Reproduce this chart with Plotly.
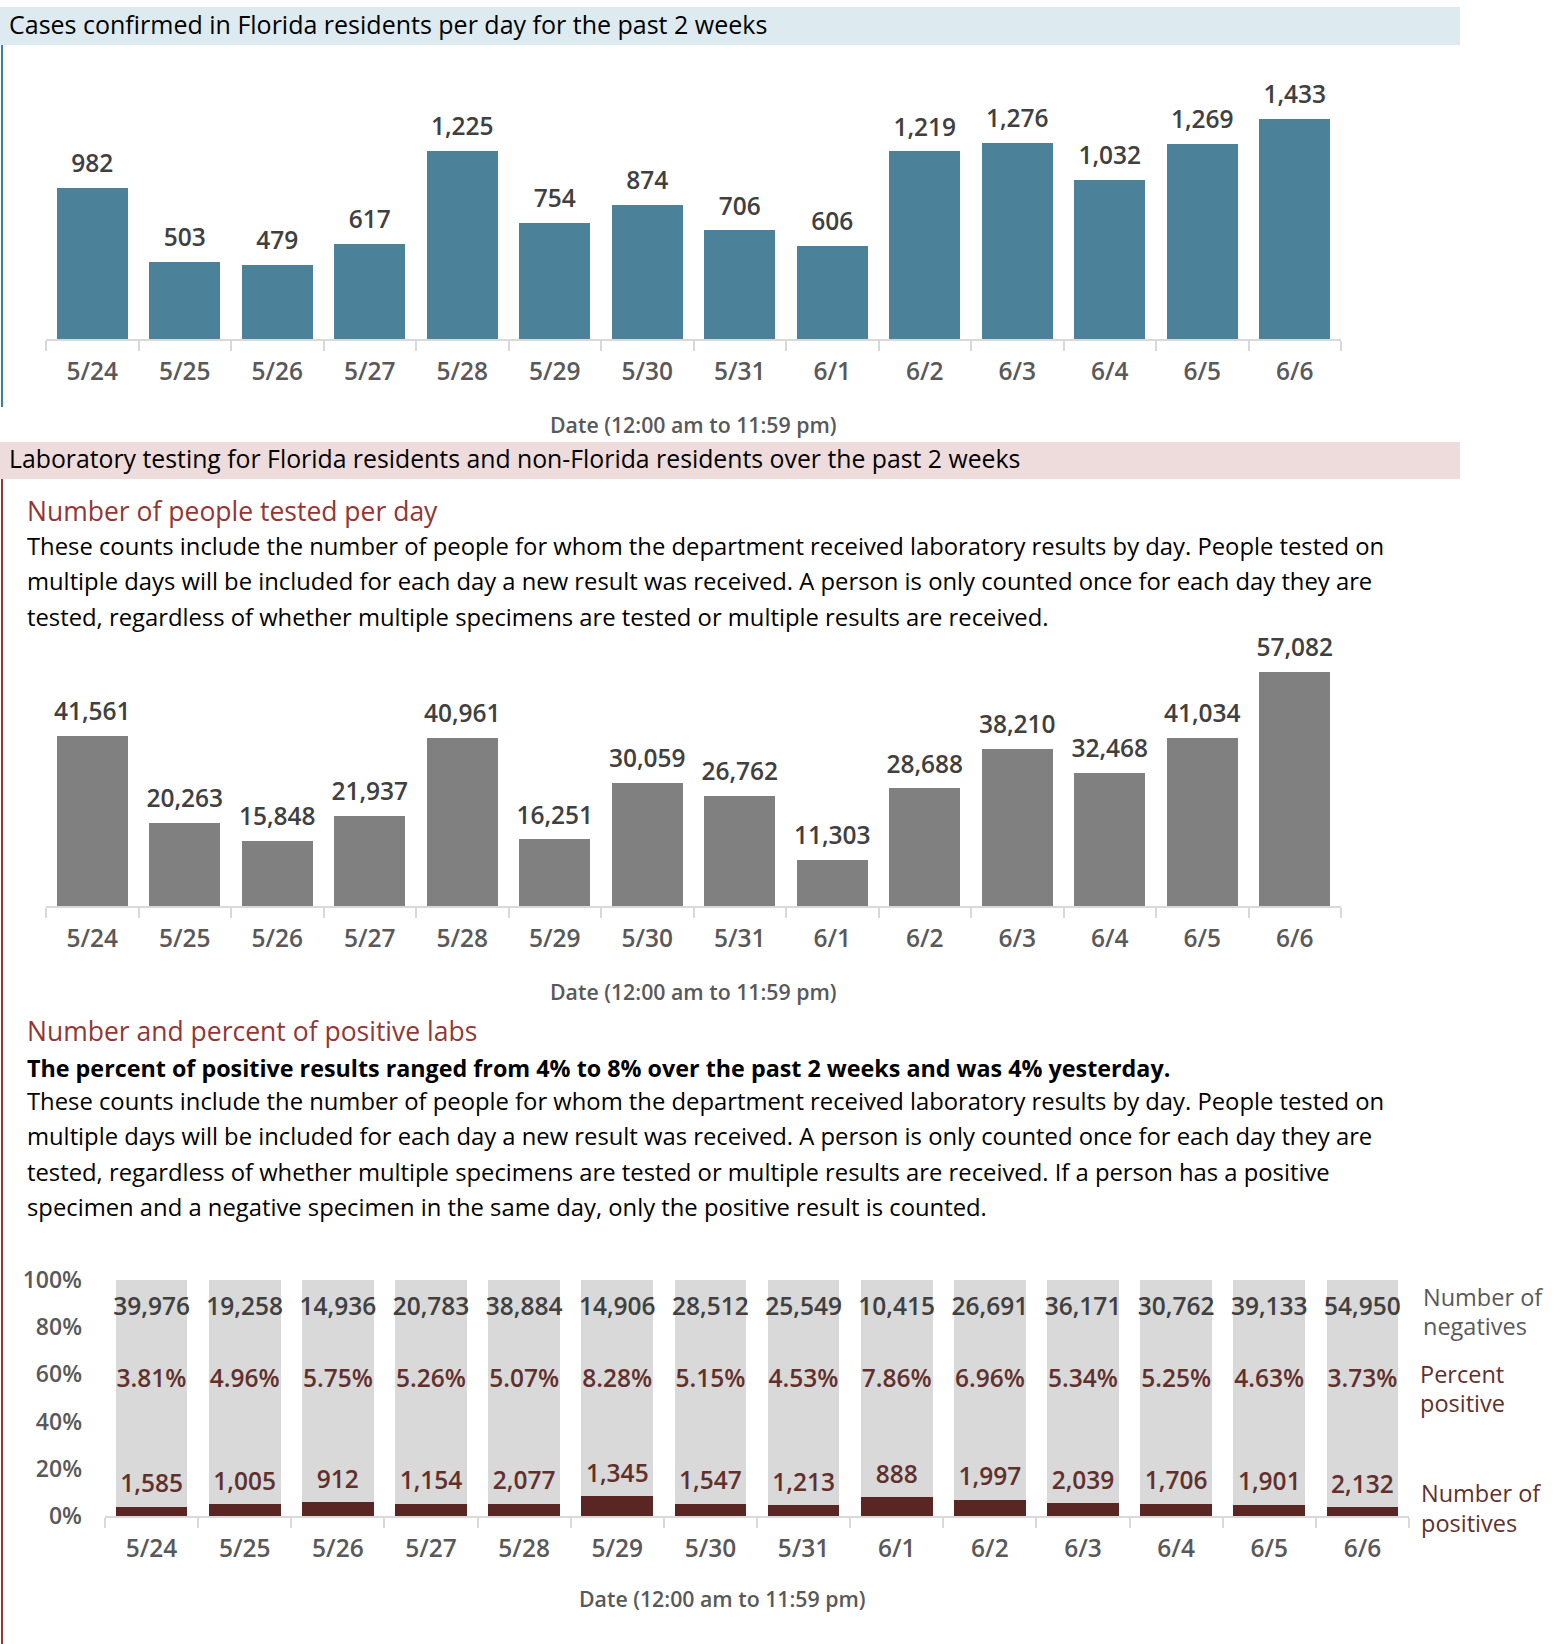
import plotly.graph_objects as go

# ---------------- data ----------------
dates = ["5/24", "5/25", "5/26", "5/27", "5/28", "5/29", "5/30", "5/31",
         "6/1", "6/2", "6/3", "6/4", "6/5", "6/6"]
cases = [982, 503, 479, 617, 1225, 754, 874, 706, 606, 1219, 1276, 1032, 1269, 1433]
tested = [41561, 20263, 15848, 21937, 40961, 16251, 30059, 26762, 11303, 28688,
          38210, 32468, 41034, 57082]
negatives = [39976, 19258, 14936, 20783, 38884, 14906, 28512, 25549, 10415, 26691,
             36171, 30762, 39133, 54950]
positives = [1585, 1005, 912, 1154, 2077, 1345, 1547, 1213, 888, 1997,
             2039, 1706, 1901, 2132]
pct_positive = [3.81, 4.96, 5.75, 5.26, 5.07, 8.28, 5.15, 4.53, 7.86, 6.96,
                5.34, 5.25, 4.63, 3.73]
pct_ticks = [0, 20, 40, 60, 80, 100]
pct_tick_labels = ["0%", "20%", "40%", "60%", "80%", "100%"]

header1 = "Cases confirmed in Florida residents per day for the past 2 weeks"
header2 = "Laboratory testing for Florida residents and non-Florida residents over the past 2 weeks"
sub1 = "Number of people tested per day"
sub2 = "Number and percent of positive labs"
axis_title = "Date (12:00 am to 11:59 pm)"
para1 = [
    "These counts include the number of people for whom the department received laboratory results by day. People tested on",
    "multiple days will be included for each day a new result was received. A person is only counted once for each day they are",
    "tested, regardless of whether multiple specimens are tested or multiple results are received.",
]
bold_line = "The percent of positive results ranged from 4% to 8% over the past 2 weeks and was 4% yesterday."
para2 = [
    "These counts include the number of people for whom the department received laboratory results by day. People tested on",
    "multiple days will be included for each day a new result was received. A person is only counted once for each day they are",
    "tested, regardless of whether multiple specimens are tested or multiple results are received. If a person has a positive",
    "specimen and a negative specimen in the same day, only the positive result is counted.",
]

# ---------------- styling ----------------
W, H = 1560, 1644
FONT = "Open Sans, Liberation Sans, Arial, sans-serif"
TEAL = "#4B8199"
GREY_BAR = "#808080"
LIGHT = "#D9D9D9"
MAROON = "#5A2623"
MAROON_TXT = "#62302C"
RED_TXT = "#943634"
LABEL = "#404040"
TICK = "#595959"


def px(x):
    return x / W


def py(y):
    return 1 - y / H


fmt = lambda v: f"{v:,}"
neg_pct = [n / (n + p) * 100 for n, p in zip(negatives, positives)]
pos_pct = [p / (n + p) * 100 for n, p in zip(negatives, positives)]

LBL_SIZE = 24.5
# invisible marker used only to push the value label a little above the bar end
GAP_MARKER = dict(size=14, opacity=0)
fig = go.Figure()

# chart 1
fig.add_trace(go.Bar(x=dates, y=cases, marker=dict(color=TEAL, line=dict(width=0)),
                     width=0.77, xaxis="x", yaxis="y", showlegend=False, hoverinfo="skip"))
fig.add_trace(go.Scatter(x=dates, y=cases, mode="markers+text", text=[fmt(v) for v in cases],
                         textposition="top center", cliponaxis=False,
                         textfont=dict(family=FONT, size=LBL_SIZE, color=LABEL, weight=600),
                         marker=GAP_MARKER,
                         xaxis="x", yaxis="y", showlegend=False, hoverinfo="skip"))
# chart 2
fig.add_trace(go.Bar(x=dates, y=tested, marker=dict(color=GREY_BAR, line=dict(width=0)),
                     width=0.77, xaxis="x2", yaxis="y2", showlegend=False, hoverinfo="skip"))
fig.add_trace(go.Scatter(x=dates, y=tested, mode="markers+text", text=[fmt(v) for v in tested],
                         textposition="top center", cliponaxis=False,
                         textfont=dict(family=FONT, size=LBL_SIZE, color=LABEL, weight=600),
                         marker=GAP_MARKER,
                         xaxis="x2", yaxis="y2", showlegend=False, hoverinfo="skip"))
# chart 3 (100% stacked)
fig.add_trace(go.Bar(x=dates, y=pos_pct, marker=dict(color=MAROON, line=dict(width=0)),
                     width=0.77, xaxis="x3", yaxis="y3", showlegend=False, hoverinfo="skip"))
fig.add_trace(go.Bar(x=dates, y=neg_pct, marker=dict(color=LIGHT, line=dict(width=0)),
                     width=0.77, xaxis="x3", yaxis="y3", showlegend=False, hoverinfo="skip"))
fig.add_trace(go.Scatter(x=dates, y=pos_pct, mode="markers+text",
                         text=[fmt(v) for v in positives],
                         textposition="top center", cliponaxis=False,
                         textfont=dict(family=FONT, size=LBL_SIZE, color=MAROON_TXT, weight=600),
                         marker=dict(size=12, opacity=0),
                         xaxis="x3", yaxis="y3", showlegend=False, hoverinfo="skip"))
fig.add_trace(go.Scatter(x=dates, y=[87.6] * len(dates), mode="text",
                         text=[fmt(v) for v in negatives], textposition="middle center",
                         cliponaxis=False,
                         textfont=dict(family=FONT, size=LBL_SIZE, color=LABEL, weight=600),
                         xaxis="x3", yaxis="y3", showlegend=False, hoverinfo="skip"))
fig.add_trace(go.Scatter(x=dates, y=[57.3] * len(dates), mode="text",
                         text=[f"{v:.2f}%" for v in pct_positive], textposition="middle center",
                         cliponaxis=False,
                         textfont=dict(family=FONT, size=LBL_SIZE, color=MAROON_TXT, weight=600),
                         xaxis="x3", yaxis="y3", showlegend=False, hoverinfo="skip"))

xcommon = dict(type="category", range=[-0.5, len(dates) - 0.5], automargin=False,
               showline=True, linecolor=LIGHT, linewidth=2,
               ticks="outside", tickson="boundaries", ticklen=10, tickcolor=LIGHT,
               tickwidth=2, showgrid=False, zeroline=False, fixedrange=True,
               tickfont=dict(family=FONT, size=24.5, color=TICK, weight=600),
               ticklabelstandoff=10)
ycommon = dict(showgrid=False, zeroline=False, showticklabels=False, showline=False,
               ticks="", fixedrange=True, automargin=False)

fig.update_layout(
    width=W, height=H,
    margin=dict(l=0, r=0, t=0, b=0, pad=0, autoexpand=False),
    paper_bgcolor="white", plot_bgcolor="rgba(0,0,0,0)",
    barmode="stack", showlegend=False,
    font=dict(family=FONT, color="black"),
    xaxis=dict(domain=[px(46), px(1341)], anchor="y", **xcommon),
    yaxis=dict(domain=[py(339), py(75)], range=[0, 1716], anchor="x", **ycommon),
    xaxis2=dict(domain=[px(46), px(1341)], anchor="y2", **xcommon),
    yaxis2=dict(domain=[py(906), py(620)], range=[0, 69767], anchor="x2", **ycommon),
    xaxis3=dict(domain=[px(105), px(1409)], anchor="y3", **xcommon),
    yaxis3=dict(domain=[py(1516), py(1280)], range=[0, 100], anchor="x3",
                showgrid=False, zeroline=False, showline=False, ticks="",
                tickmode="array", tickvals=pct_ticks, ticktext=pct_tick_labels,
                fixedrange=True, ticklabelstandoff=22, automargin=False,
                tickfont=dict(family=FONT, size=23, color=TICK, weight=600)),
)

shapes = [
    dict(type="rect", xref="paper", yref="paper", x0=px(0), x1=px(1460),
         y0=py(45), y1=py(7), fillcolor="#DDEBF0", line=dict(width=0), layer="below"),
    dict(type="rect", xref="paper", yref="paper", x0=px(0), x1=px(1460),
         y0=py(479), y1=py(442), fillcolor="#EEDCDC", line=dict(width=0), layer="below"),
    dict(type="line", xref="paper", yref="paper", x0=px(2), x1=px(2),
         y0=py(45), y1=py(407), line=dict(color="#31849B", width=2)),
    dict(type="line", xref="paper", yref="paper", x0=px(2), x1=px(2),
         y0=py(479), y1=py(1644), line=dict(color=RED_TXT, width=2)),
]
fig.update_layout(shapes=shapes)

ann = []


def text(x, y, s, size, color, weight="normal", xanchor="left"):
    ann.append(dict(x=px(x), y=py(y), xref="paper", yref="paper", text=s,
                    showarrow=False, xanchor=xanchor, yanchor="middle",
                    font=dict(family=FONT, size=size, color=color, weight=weight)))


text(7, 24.5, header1, 25, "black")
text(7, 458.5, header2, 24.8, "black")
text(25, 511, sub1, 26.5, RED_TXT)
for i, line in enumerate(para1):
    text(25, 545.5 + i * 35.5, line, 23.8, "black")
text(693, 425, axis_title, 21.3, TICK, weight=600, xanchor="center")
text(693, 991, axis_title, 21.3, TICK, weight=600, xanchor="center")
text(722, 1598, axis_title, 21.3, TICK, weight=600, xanchor="center")
text(25, 1031, sub2, 26.5, RED_TXT)
text(25, 1068, bold_line, 23.3, "black", weight="bold")
for i, line in enumerate(para2):
    text(25, 1101 + i * 35.3, line, 23.8, "black")

text(1421, 1297, "Number of", 23.5, TICK)
text(1421, 1326, "negatives", 23.5, TICK)
text(1418, 1374, "Percent", 23.5, MAROON_TXT)
text(1418, 1403, "positive", 23.5, MAROON_TXT)
text(1419, 1493, "Number of", 23.5, MAROON_TXT)
text(1419, 1523, "positives", 23.5, MAROON_TXT)
fig.update_layout(annotations=ann)

fig.write_html("out.html", config={"displayModeBar": False},
               post_script="document.body.style.margin='0px';document.body.style.overflow='hidden';")
